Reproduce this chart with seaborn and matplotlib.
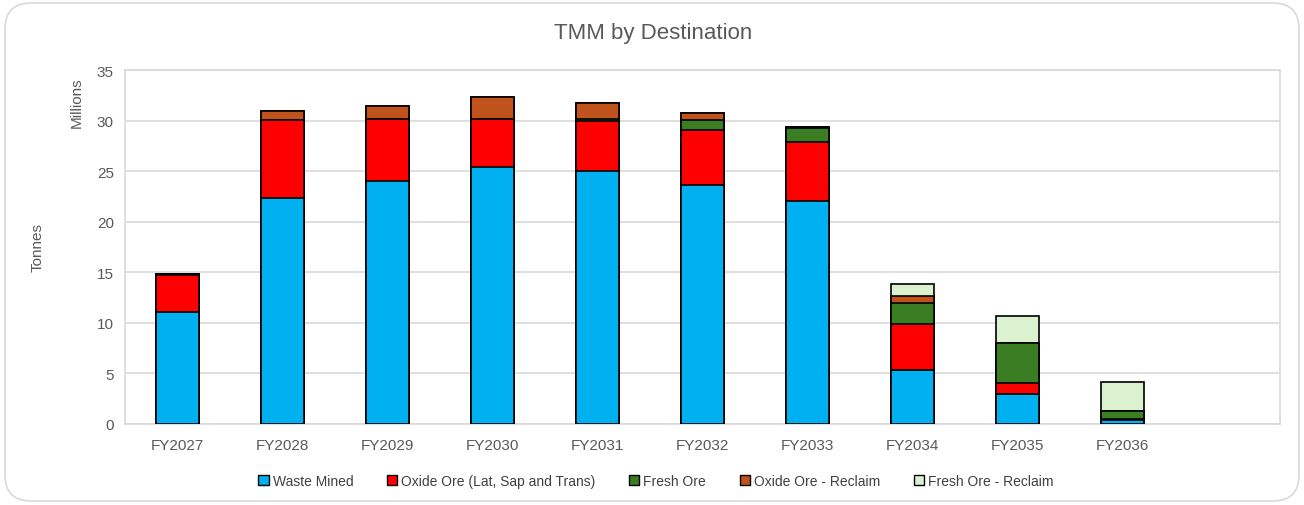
import matplotlib
matplotlib.use("Agg")
import matplotlib.pyplot as plt
from matplotlib.patches import FancyBboxPatch, Patch
import numpy as np
import pandas as pd
import seaborn as sns

years = ["FY2027", "FY2028", "FY2029", "FY2030", "FY2031",
         "FY2032", "FY2033", "FY2034", "FY2035", "FY2036"]

# Millions of tonnes
waste_mined = [11.05, 22.3, 24.0, 25.45, 25.0, 23.6, 22.0, 5.3, 3.0, 0.35]
oxide_ore = [3.7, 7.8, 6.15, 4.7, 5.0, 5.45, 5.9, 4.6, 1.05, 0.1]
fresh_ore = [0.05, 0.0, 0.0, 0.0, 0.2, 1.05, 1.4, 2.1, 4.0, 0.85]
oxide_reclaim = [0.0, 0.85, 1.3, 2.15, 1.5, 0.65, 0.1, 0.7, 0.0, 0.0]
fresh_reclaim = [0.0, 0.0, 0.0, 0.0, 0.0, 0.0, 0.0, 1.1, 2.65, 2.85]

series = ["Waste Mined", "Oxide Ore (Lat, Sap and Trans)", "Fresh Ore",
          "Oxide Ore - Reclaim", "Fresh Ore - Reclaim"]
colors = ["#00B0F0", "#FF0000", "#3A7D22", "#C0531B", "#DAF2D0"]

df = pd.DataFrame({
    "year": years,
    series[0]: waste_mined,
    series[1]: oxide_ore,
    series[2]: fresh_ore,
    series[3]: oxide_reclaim,
    series[4]: fresh_reclaim,
})
cum = df[series].cumsum(axis=1)
cum["year"] = df["year"]

sns.set_style("white")
plt.rcParams["font.family"] = ["Liberation Sans", "DejaVu Sans"]

fig = plt.figure(figsize=(13.04, 5.06), dpi=100)
ax = fig.add_axes([125 / 1304, 1 - 425 / 506, (1280 - 125) / 1304, (425 - 71) / 506])

# stacked bars: draw cumulative totals from the top layer down
for name, col in reversed(list(zip(series, colors))):
    sns.barplot(data=cum, x="year", y=name, color=col, width=0.41,
                edgecolor="black", linewidth=1.2, saturation=1, ax=ax, zorder=3)

ax.set_xlim(-0.5, 10.5)
ax.set_ylim(0, 35)
ax.set_yticks(range(0, 36, 5))
ax.yaxis.grid(True, color="#D9D9D9", linewidth=1.2, zorder=0)
ax.set_axisbelow(True)
for s in ax.spines.values():
    s.set_color("#D9D9D9")
    s.set_linewidth(1.2)
ax.tick_params(axis="both", length=0, labelsize=11, labelcolor="#595959")
ax.tick_params(axis="x", pad=10)
ax.tick_params(axis="y", pad=8)
ax.set_xlabel("")
ax.set_ylabel("")

fig.text(653 / 1304, 1 - 33 / 506, "TMM by Destination", ha="center", va="center",
         fontsize=16, color="#595959")
fig.text(38 / 1304, 1 - 248 / 506, "Tonnes", rotation=90, ha="center", va="center",
         fontsize=11, color="#595959")
fig.text(77 / 1304, 1 - 103 / 506, "Millions", rotation=90, ha="center", va="center",
         fontsize=11, color="#595959")

handles = [Patch(facecolor=c, edgecolor="black", linewidth=1.0) for c in colors]
fig.legend(handles, series, loc="center", bbox_to_anchor=(656 / 1304, 1 - 482 / 506),
           ncol=5, frameon=False, handlelength=0.75, handleheight=0.75, handletextpad=0.3,
           columnspacing=2.4, prop={"size": 10}, labelcolor="#404040")

border = FancyBboxPatch((5 / 1304, 4 / 506), 1294 / 1304, 498 / 506,
                        boxstyle="round,pad=0,rounding_size=0.02",
                        transform=fig.transFigure, facecolor="none",
                        edgecolor="#D9D9D9", linewidth=1.2, mutation_aspect=1304 / 506)
fig.patches.append(border)

fig.savefig("out.png", dpi=100)
